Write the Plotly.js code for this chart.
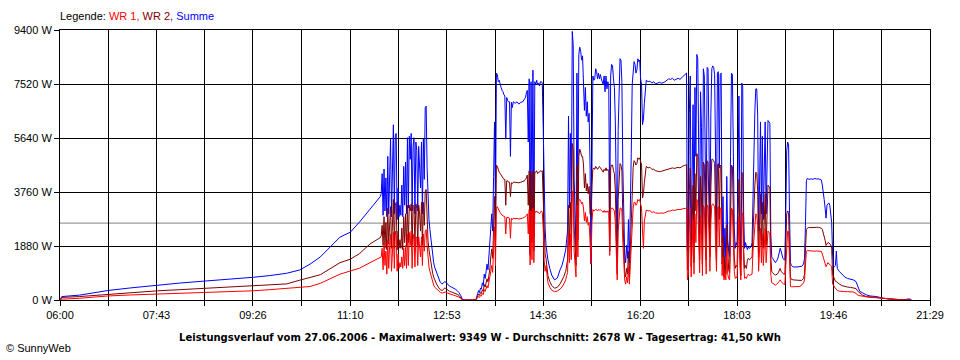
<!DOCTYPE html>
<html>
<head>
<meta charset="utf-8">
<script src="https://cdn.plot.ly/plotly-3.0.1.min.js"></script>
<style>
html,body{margin:0;padding:0;background:#ffffff;}
#chart{width:960px;height:360px;}
</style>
</head>
<body>
<div id="chart"></div>
<script>
// ---------------- data ----------------
const times = [
"06:00","06:02","06:21","06:51","07:15","07:44","08:08","08:35","09:01","09:26",
"09:44","10:02","10:16","10:27","10:38","10:48","10:59","11:10","11:20","11:31",
"11:42","11:43","11:44","11:45","11:46","11:47","11:48","11:49","11:50","11:51",
"11:52","11:53","11:54","11:55","11:56","11:57","11:58","11:59","12:00","12:01",
"12:02","12:03","12:04","12:05","12:06","12:07","12:08","12:09","12:10","12:11",
"12:12","12:13","12:14","12:15","12:16","12:17","12:18","12:19","12:20","12:21",
"12:22","12:23","12:24","12:25","12:26","12:27","12:28","12:29","12:30","12:31",
"12:32","12:33","12:34","12:35","12:36","12:37","12:38","12:39","12:40","12:42",
"12:44","12:46","12:48","12:50","12:51","12:52","12:54","12:56","12:58","13:00",
"13:02","13:04","13:06","13:08","13:10","13:24","13:25","13:26","13:27","13:28",
"13:29","13:30","13:31","13:32","13:33","13:34","13:35","13:36","13:37","13:38",
"13:39","13:40","13:41","13:42","13:43","13:44","13:45","13:46","13:47","13:48",
"13:49","13:50","13:51","13:52","13:53","13:54","13:55","13:56","13:57","13:58",
"13:59","14:00","14:01","14:02","14:03","14:04","14:06","14:08","14:10","14:12",
"14:14","14:16","14:17","14:18","14:19","14:20","14:21","14:22","14:23","14:24",
"14:25","14:26","14:27","14:28","14:29","14:30","14:31","14:32","14:33","14:34",
"14:35","14:36","14:37","14:38","14:39","14:40","14:41","14:43","14:45","14:48",
"14:51","14:54","14:56","14:58","15:00","15:01","15:02","15:03","15:04","15:05",
"15:06","15:07","15:08","15:09","15:10","15:11","15:12","15:13","15:14","15:15",
"15:16","15:17","15:18","15:19","15:20","15:21","15:22","15:23","15:24","15:25",
"15:26","15:27","15:28","15:29","15:30","15:31","15:32","15:33","15:34","15:35",
"15:36","15:37","15:38","15:39","15:40","15:41","15:42","15:43","15:44","15:45",
"15:46","15:47","15:48","15:49","15:50","15:51","15:52","15:53","15:54","15:55",
"15:56","15:57","15:58","15:59","16:00","16:01","16:02","16:03","16:04","16:05",
"16:06","16:07","16:08","16:09","16:10","16:11","16:12","16:13","16:14","16:15",
"16:16","16:17","16:18","16:19","16:20","16:21","16:22","16:23","16:24","16:25",
"16:26","16:28","16:30","16:32","16:34","16:36","16:38","16:40","16:42","16:44",
"16:46","16:48","16:50","16:52","16:54","16:56","16:58","17:00","17:02","17:04",
"17:06","17:08","17:09","17:10","17:11","17:12","17:13","17:14","17:15","17:16",
"17:17","17:18","17:19","17:20","17:21","17:22","17:23","17:24","17:25","17:26",
"17:27","17:28","17:29","17:30","17:31","17:32","17:33","17:34","17:35","17:36",
"17:37","17:38","17:39","17:40","17:41","17:42","17:43","17:44","17:45","17:46",
"17:47","17:48","17:49","17:50","17:51","17:52","17:53","17:54","17:55","17:56",
"17:57","17:58","17:59","18:00","18:01","18:02","18:03","18:04","18:05","18:06",
"18:07","18:08","18:09","18:10","18:11","18:12","18:13","18:14","18:15","18:16",
"18:17","18:18","18:19","18:20","18:21","18:22","18:23","18:24","18:25","18:26",
"18:27","18:28","18:29","18:30","18:31","18:32","18:33","18:34","18:35","18:36",
"18:37","18:38","18:39","18:40","18:41","18:42","18:43","18:44","18:45","18:46",
"18:47","18:48","18:49","18:50","18:51","18:52","18:53","18:54","18:55","18:56",
"18:57","18:58","18:59","19:00","19:01","19:02","19:03","19:07","19:10","19:12",
"19:14","19:15","19:16","19:17","19:18","19:20","19:22","19:24","19:26","19:28",
"19:30","19:32","19:33","19:34","19:35","19:36","19:37","19:38","19:39","19:40",
"19:41","19:42","19:43","19:44","19:45","19:46","19:47","19:48","19:49","19:50",
"19:52","19:55","19:58","20:01","20:04","20:07","20:10","20:12","20:14","20:17",
"20:21","20:25","20:32","20:39","20:46","20:56","21:01","21:05","21:08","21:09"
];

// Summe (blue), W
const summe = [
0,120,170,330,420,520,590,660,720,790,
850,930,1045,1250,1500,1820,2190,2360,2720,3160,
3600,3700,4400,2950,4560,3100,4250,2900,5000,3000,
4700,5600,2900,5400,6100,3000,5750,5800,2800,3900,
2900,3300,2950,4000,2900,4650,3300,4800,3000,5650,
3200,5700,4900,5800,3100,5350,5650,3000,5500,5200,
3100,5350,4600,3900,5500,3000,5600,4200,6700,6750,
4600,3300,2800,2450,2100,1800,1500,1300,1150,950,
780,620,560,600,640,620,540,480,450,420,
380,330,260,150,0,0,120,230,330,260,
420,380,600,500,900,750,1100,1250,1050,1450,
1800,2500,3000,2400,4300,6200,3000,7900,7850,7600,
7650,7450,7400,7300,7250,7150,7100,5600,7050,6950,
6900,6900,5000,6880,6700,6900,6850,6900,6820,6880,
6900,7000,7050,7200,7300,5500,7700,1650,7600,3500,
8000,2200,7600,7500,7650,7500,7550,7450,7600,7600,
7550,6000,3600,2500,1900,1600,1400,1100,870,700,
760,1050,1200,1450,1750,2100,2400,6400,3200,5800,
3400,9349,8900,4200,2900,1900,7900,3500,8550,8800,
8650,8350,8500,7500,6600,7400,6400,6900,6200,6500,
4700,1250,5500,7800,7650,7700,8050,7950,7700,7900,
7700,7850,7700,7600,7500,7800,7250,7800,7350,7600,
7450,2700,7800,8200,8150,7700,7400,6200,2600,1450,
5900,7500,8400,8350,7600,4600,2700,1600,1300,1900,
1450,2800,1300,2900,5100,7500,7900,8300,8200,7900,
8000,8400,8300,8350,7700,7500,6100,6300,6850,7400,
7650,7600,7620,7550,7600,7520,7560,7580,7550,7560,
7600,7650,7700,7680,7720,7650,7700,7720,7680,7750,
7800,7870,7900,1700,2300,6500,7800,1900,5800,6800,
2200,7400,5000,8550,8400,5200,2300,7250,6000,2100,
8050,7800,4500,2300,8100,8050,5500,2500,6500,8050,
8150,8100,7850,5000,2400,7900,7950,4600,7850,7900,
2000,3600,1300,2500,1500,4300,2100,1700,1500,5000,
7900,7850,4500,2500,1800,2000,1900,4500,7100,3000,
1400,7550,7450,3000,1800,2000,1800,1750,1850,1800,
1820,1850,2000,4000,5500,6600,7350,7350,6400,2400,
4000,6200,3000,5700,2800,4200,6200,3000,4500,6250,
6200,6150,2300,1500,1450,1400,1350,1300,1350,1400,
1500,1650,1800,1700,1550,1450,1400,1400,3000,5200,
5500,5400,3000,1300,1200,1180,1150,1150,1160,1170,
1250,1450,2600,4150,4230,4200,4220,4200,4230,4210,
4220,4200,4180,4000,3800,3500,3200,2850,3300,3350,
3380,3300,3000,2700,1600,1160,1160,1200,1700,1100,
1000,900,800,750,730,700,640,480,300,250,
180,140,120,60,35,25,0,35,35,0
];

// WR 2 (dark red), W
const wr2 = [
0,90,120,200,260,320,360,405,445,485,
520,560,690,780,880,1080,1300,1420,1620,1950,
2170,2250,2600,1900,2900,1800,2700,1750,3200,1950,
2800,3250,1800,3200,3500,1800,3300,3400,1750,2400,
1800,2100,1800,2500,1750,2900,2000,3000,1850,3300,
2000,3300,3100,3350,1900,3300,3250,1850,3350,3200,
1900,3300,3000,2400,3400,1900,3400,2600,3800,3850,
2800,2050,1750,1500,1300,1100,920,800,700,560,
450,360,330,380,420,400,340,300,280,260,
240,200,160,90,0,0,70,150,210,160,
260,230,360,300,540,450,650,740,630,860,
1080,1500,1780,1450,2550,3600,1900,4700,4650,4500,
4450,4400,4350,4300,4250,4200,4200,3300,4150,4150,
4100,4100,3600,4080,4050,4100,4100,4080,4080,4100,
4120,4150,4200,4250,4350,3300,4500,1550,4450,2000,
4500,1700,4450,4450,4500,4400,4450,4450,4500,4480,
4500,3600,2200,1600,1450,1000,850,650,510,410,
440,560,680,820,1000,1200,1400,3300,1900,3400,
2000,5450,5200,2600,1800,1200,4700,2100,5000,5250,
5150,5000,5000,4700,3900,4400,3800,4050,3700,3950,
3000,2900,4000,4550,4600,4550,4650,4600,4550,4600,
4650,4600,4550,4500,4450,4550,4500,4600,4500,4550,
4500,1700,4600,4700,4700,4500,4400,3800,1600,900,
3500,4400,4750,4700,4500,2900,1700,1000,800,1100,
900,1700,800,1800,3100,4400,4600,4850,4800,4700,
4750,4950,4900,4950,4850,4700,3550,3700,4100,4450,
4650,4600,4620,4550,4550,4500,4480,4470,4480,4500,
4520,4560,4560,4580,4600,4580,4600,4620,4600,4650,
4680,4700,4720,1050,1300,3800,4600,1150,3500,4000,
1300,4400,3100,5100,5000,3200,1400,4300,3600,1250,
4800,4700,2700,1400,4850,4800,3300,1500,3900,4900,
4900,4850,4750,3000,1400,4700,4750,2800,4700,4650,
1250,2200,800,1500,900,2600,1300,1050,950,3000,
4700,4650,2700,1500,1100,1200,1150,2700,4200,1800,
850,4450,4400,1800,1100,1200,1100,1400,1450,1400,
1420,1450,1500,2500,3300,4000,4450,4400,3800,1500,
2600,3700,1900,3400,1800,2600,3700,1900,2800,4000,
3950,3900,1500,1000,950,900,880,870,880,900,
950,1050,1100,1000,950,920,900,900,1900,3000,
3100,3050,1800,800,720,710,700,690,680,680,
750,900,1700,2450,2500,2530,2520,2530,2520,2530,
2530,2520,2500,2460,2350,2200,2080,1900,1950,2000,
1990,1950,1920,1800,900,810,700,650,640,600,
560,500,470,450,440,420,400,300,240,170,
120,110,100,60,30,15,0,0,0,0
];

// WR 1 (red), W
const wr1 = [
0,30,60,140,175,205,230,255,290,320,
360,400,430,470,580,720,900,1010,1110,1300,
1500,1500,1800,1050,2000,1200,1700,900,2100,1100,
1900,2300,1000,2100,2350,1100,2400,2200,1000,1600,
1100,1300,1150,1500,1100,1800,1200,1900,1100,2300,
1200,2350,1900,2400,1100,2100,2300,1150,2200,2150,
1200,2200,1800,1500,2200,1200,2300,1700,2400,2450,
1900,1400,1150,1000,850,720,600,520,450,380,
320,270,240,260,290,280,240,210,190,170,
150,130,100,50,0,0,50,80,120,90,
160,140,230,190,360,300,430,500,420,580,
720,1000,1200,960,1750,2550,1200,3200,3250,3150,
3100,3050,3000,2950,2950,2900,2900,2300,2880,2860,
2850,2850,2150,2840,2800,2850,2830,2840,2820,2830,
2850,2880,2900,2950,3000,2300,3150,1220,3100,1400,
3200,1300,3100,3050,3100,3050,3050,3000,3050,3100,
3050,2500,1400,1000,1200,800,600,450,340,290,
310,380,450,560,700,850,950,2400,1300,2300,
1400,3800,3700,1700,1200,800,3300,1500,3450,3500,
3450,3350,3400,3200,2750,3050,2700,2900,2600,2700,
2000,1250,2700,3150,3100,3130,3150,3150,3100,3150,
3130,3150,3100,3080,3050,3120,3050,3100,3050,3100,
3080,1550,3150,3200,3200,3150,3100,2700,1100,700,
2400,3000,3200,3200,3100,2000,1200,700,550,800,
600,1150,550,1200,2100,3000,3200,3400,3400,3300,
3350,3500,3450,3500,3300,3200,2400,1800,2750,3000,
3130,3100,3110,3050,3070,3030,3020,3020,3030,3020,
3040,3080,3100,3100,3130,3120,3140,3150,3150,3160,
3180,3200,3200,700,900,2600,3200,800,2400,2800,
900,3000,2000,3500,3400,2100,950,2950,2450,850,
3300,3200,1800,900,3300,3280,2300,1000,2700,3300,
3350,3300,3250,2000,1000,3200,3250,1850,3200,3200,
850,1500,700,1000,700,1800,900,750,700,2000,
3200,3150,1900,1000,750,800,780,1800,2900,1200,
700,3050,3000,1300,750,800,750,850,900,850,
860,880,900,1700,2200,2700,3000,2950,2600,1000,
1700,2500,1300,2300,1200,1700,2500,1300,1900,2400,
2350,2300,900,600,580,560,540,520,540,560,
600,650,700,650,600,560,540,550,1200,2200,
2400,2380,1200,470,460,460,460,460,470,520,
600,700,1200,1700,1720,1710,1705,1710,1700,1710,
1710,1700,1690,1600,1500,1350,1220,1160,1230,1300,
1250,1240,1200,1160,550,520,450,400,350,330,
310,290,290,290,290,280,230,170,150,130,
100,90,80,55,25,10,0,0,0,0
];

const seriesNames = ["WR 1", "WR 2", "Summe"];
const xTickLabels = ["06:00","07:43","09:26","11:10","12:53","14:36","16:20","18:03","19:46","21:29"];
const yTickValues = [0, 1880, 3760, 5640, 7520, 9400];
const yTickLabels = ["0 W", "1880 W", "3760 W", "5640 W", "7520 W", "9400 W"];
const reportDate = "27.06.2006";
const maxValue = 9349;
const averageValue = 2678;
const dailyYield = "41,50";

// ---------------- styles ----------------
const colors = {"WR 1": "#ff0000", "WR 2": "#800000", "Summe": "#0000ff"};
const baseFont = "Liberation Sans, Arial, sans-serif";

// ---------------- build ----------------
const toMin = s => parseInt(s.slice(0, 2), 10) * 60 + parseInt(s.slice(3, 5), 10);
const xs = times.map(toMin);

const majors = xTickLabels.map(toMin);
const gridVals = [], gridText = [];
majors.forEach((m, i) => {
  gridVals.push(m); gridText.push(xTickLabels[i]);
  if (i < majors.length - 1) { gridVals.push((m + majors[i + 1]) / 2); gridText.push(""); }
});

const seriesData = {"WR 1": wr1, "WR 2": wr2, "Summe": summe};
const drawOrder = ["Summe", "WR 2", "WR 1"];
const traces = drawOrder.map(n => ({
  x: xs, y: seriesData[n], name: n, type: "scatter", mode: "lines",
  line: {color: colors[n], width: 1}, hoverinfo: "skip"
}));

const legendText = "Legende: " + seriesNames.map((n, i) =>
  '<span style="color:' + colors[n] + '">' + n + (i < seriesNames.length - 1 ? ", " : "") + "</span>").join("");

const titleText = "Leistungsverlauf vom " + reportDate + " - Maximalwert: " + maxValue +
  " W - Durchschnitt: " + averageValue + " W - Tagesertrag: " + dailyYield + " kWh";

const axisCommon = {
  showgrid: true, gridcolor: "#000000", gridwidth: 1,
  showline: true, linecolor: "#000000", linewidth: 1, mirror: true,
  ticks: "outside", ticklen: 5, tickwidth: 1, tickcolor: "#000000",
  zeroline: false, fixedrange: true,
  tickfont: {family: baseFont, size: 11, color: "#000000"}
};

const layout = {
  width: 960, height: 360,
  margin: {l: 60, r: 30, t: 30, b: 60, pad: 0},
  paper_bgcolor: "#ffffff", plot_bgcolor: "#ffffff",
  showlegend: false,
  font: {family: baseFont, size: 11, color: "#000000"},
  title: {
    text: titleText,
    font: {family: "DejaVu Sans, Verdana, sans-serif", size: 10, weight: "bold", color: "#000000"},
    x: 0.5, xref: "container", xanchor: "center",
    y: 23 / 360, yref: "container", yanchor: "middle"
  },
  xaxis: Object.assign({}, axisCommon, {
    range: [toMin(xTickLabels[0]), toMin(xTickLabels[xTickLabels.length - 1])],
    tickmode: "array", tickvals: gridVals, ticktext: gridText
  }),
  yaxis: Object.assign({}, axisCommon, {
    range: [yTickValues[0], yTickValues[yTickValues.length - 1]],
    tickmode: "array", tickvals: yTickValues, ticktext: yTickLabels
  }),
  shapes: [{
    type: "line", xref: "paper", x0: 0, x1: 1, yref: "y", y0: averageValue, y1: averageValue,
    line: {color: "#808080", width: 1}, layer: "below"
  }],
  annotations: [
    {text: legendText, xref: "paper", yref: "paper", x: 0, y: 1, xanchor: "left", yanchor: "bottom",
     xshift: -2, yshift: 6, showarrow: false, font: {family: baseFont, size: 11, color: "#000000"}},
    {text: "© SunnyWeb", xref: "paper", yref: "paper", x: 0, y: 0, xanchor: "left", yanchor: "middle",
     xshift: -56, yshift: -48, showarrow: false, font: {family: baseFont, size: 11, color: "#000000"}}
  ]
};

Plotly.newPlot("chart", traces, layout, {staticPlot: true, displayModeBar: false});
</script>
</body>
</html>
